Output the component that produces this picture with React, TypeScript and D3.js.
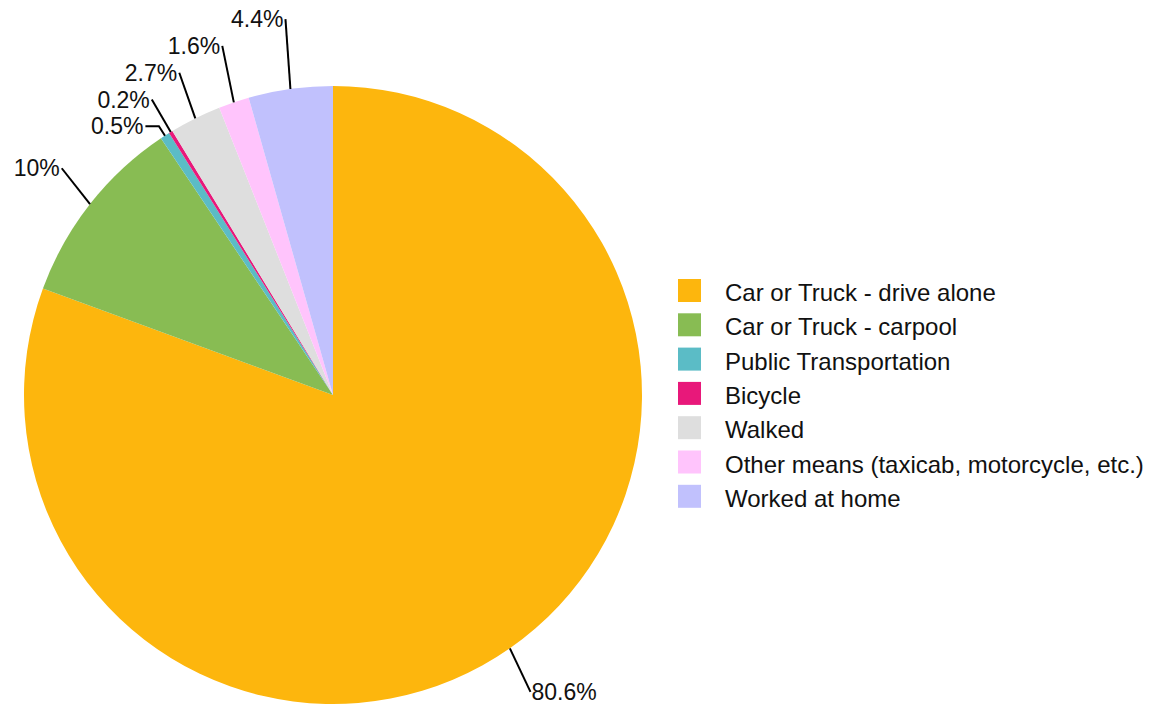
import React from "react";
import * as d3 from "d3";

const categories = [
  "Car or Truck - drive alone",
  "Car or Truck - carpool",
  "Public Transportation",
  "Bicycle",
  "Walked",
  "Other means (taxicab, motorcycle, etc.)",
  "Worked at home",
];
const values = [80.6, 10, 0.5, 0.2, 2.7, 1.6, 4.4];
const colors = ["#FDB60D", "#88BC53", "#5BBCC6", "#E8187A", "#DEDEDE", "#FFC4FC", "#C1C1FD"];

const W = 1163;
const H = 705;
const CX = 333;
const CY = 395;
const R = 309;
const LABEL_RX = 345;
const LABEL_RY = 367;
const GAP = 26.8;
const LABEL_FONT = 23;
const LEGEND_FONT = 24;
const FONT = "'Liberation Sans', Arial, Helvetica, sans-serif";

type Lab = { i: number; a: number; x: number; y0: number; y: number; side: number };

function spread(items: Lab[], minY: number, maxY: number) {
  const sorted = [...items].sort((p, q) => p.y0 - q.y0);
  let clusters = sorted.map((m) => ({ members: [m] as Lab[], top: 0 }));
  const place = (c: { members: Lab[]; top: number }) => {
    const n = c.members.length;
    const mean = d3.mean(c.members, (m) => m.y0) as number;
    let top = mean - ((n - 1) * GAP) / 2;
    top = Math.max(minY, Math.min(maxY - (n - 1) * GAP, top));
    c.top = top;
  };
  clusters.forEach(place);
  let merged = true;
  while (merged) {
    merged = false;
    for (let k = 0; k < clusters.length - 1; k++) {
      const a = clusters[k];
      const b = clusters[k + 1];
      if (b.top < a.top + a.members.length * GAP) {
        const c = { members: a.members.concat(b.members), top: 0 };
        place(c);
        clusters = clusters.slice(0, k).concat([c], clusters.slice(k + 2));
        merged = true;
        break;
      }
    }
  }
  clusters.forEach((c) => c.members.forEach((m, j) => (m.y = c.top + j * GAP)));
}

export default function App() {
  const pie = d3.pie<number>().sort(null).value((d) => d).startAngle(0).endAngle(2 * Math.PI);
  const arcs = pie(values);
  const arc = d3.arc<d3.PieArcDatum<number>>().innerRadius(0).outerRadius(R);

  const labs: Lab[] = arcs.map((a, i) => {
    const mid = (a.startAngle + a.endAngle) / 2;
    const s = Math.sin(mid);
    const c = Math.cos(mid);
    return { i, a: mid, x: CX + LABEL_RX * s, y0: CY - LABEL_RY * c, y: 0, side: s < 0 ? -1 : 1 };
  });
  const half = LABEL_FONT * 0.57;
  spread(labs.filter((l) => l.side < 0), half + 6, H - half);
  spread(labs.filter((l) => l.side > 0), half + 6, H - half);

  const legendY = d3.scalePoint<string>().domain(categories).range([279, 279 + 6 * 34.3]);

  return (
    <div style={{ position: "absolute", left: 0, top: 0 }}>
      <svg width={W} height={H} style={{ display: "block", fontFamily: FONT }}>
        <rect width={W} height={H} fill="#fff" />
        <g transform={`translate(${CX},${CY})`}>
          {arcs.map((a, i) => (
            <path key={i} d={arc(a) as string} fill={colors[i]} />
          ))}
        </g>
        {labs.map((l) => {
          const s = Math.sin(l.a);
          const c = Math.cos(l.a);
          const ex = CX + R * s;
          const ey = CY - R * c;
          const pts: [number, number][] = [[ex, ey]];
          const rNeed = (CY - l.y) / c;
          if (rNeed > R && rNeed < LABEL_RX) {
            pts.push([CX + rNeed * s, l.y]);
          }
          pts.push([l.x, l.y]);
          const line = d3.line()(pts) as string;
          return (
            <g key={l.i}>
              <path d={line} fill="none" stroke="#000" strokeWidth={2} />
              <text
                x={l.x + (l.side < 0 ? -2 : 1)}
                y={l.y}
                dy="0.35em"
                textAnchor={l.side < 0 ? "end" : "start"}
                fontSize={LABEL_FONT}
                fill="#111"
              >
                {`${values[l.i]}%`}
              </text>
            </g>
          );
        })}
        <g>
          {categories.map((cat, i) => {
            const y = legendY(cat) as number;
            return (
              <g key={cat}>
                <rect x={678} y={y} width={23} height={23} fill={colors[i]} />
                <text x={725} y={y + 22} fontSize={LEGEND_FONT} fill="#111">
                  {cat}
                </text>
              </g>
            );
          })}
        </g>
      </svg>
    </div>
  );
}
